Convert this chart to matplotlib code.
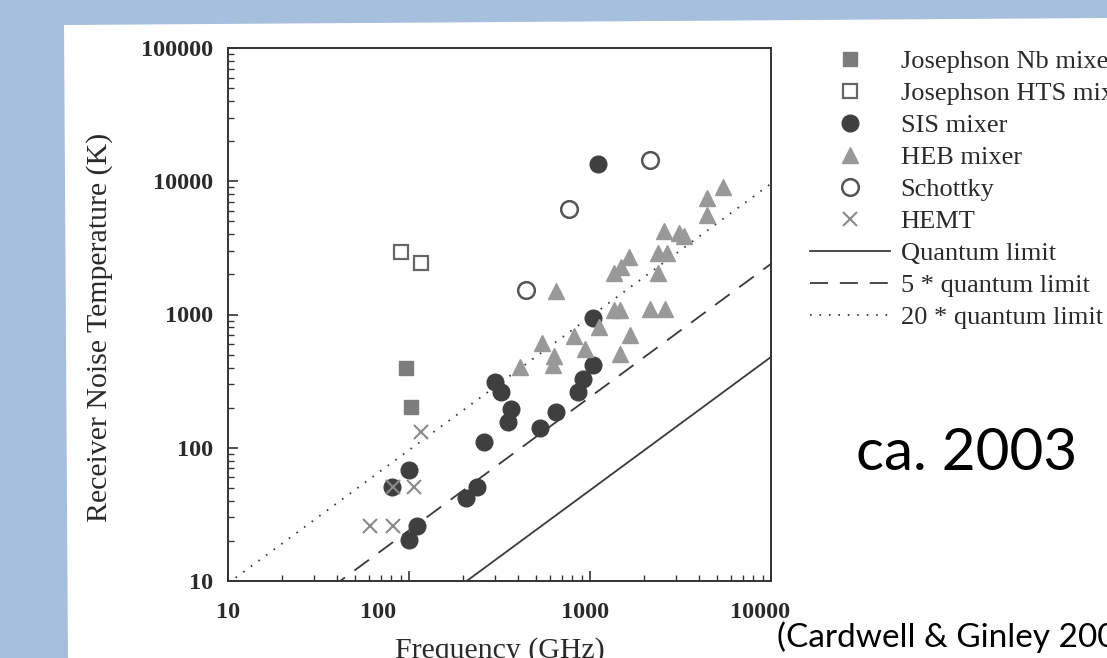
import numpy as np
import matplotlib
matplotlib.use("Agg")
import matplotlib.pyplot as plt
from matplotlib.patches import Polygon

plt.rcParams['lines.scale_dashes'] = False

# ---------------- data ----------------
nb_freq = [96, 103]
nb_temp = [400, 203]

hts_freq = [90, 117]
hts_temp = [2960, 2420]

sis_freq = [81, 100, 111, 100, 207, 237, 261, 298, 322, 365, 354, 529, 649, 861, 918, 1035, 1042, 1112]
sis_temp = [51, 68, 26, 20.3, 42, 51, 111, 313, 264, 195, 157, 140, 185, 264, 327, 418, 936, 13400]

heb_freq = [410, 541, 632, 622, 653, 820, 933, 1122, 1349, 1466, 1456, 1665, 2143, 2594,
            2383, 1349, 1475, 1652, 2383, 2654, 2564, 3114, 3304, 4426, 4426, 5447]
heb_temp = [404, 614, 484, 418, 1500, 684, 553, 802, 1081, 1081, 505, 701, 1091, 1099,
            2032, 2038, 2270, 2705, 2912, 2880, 4265, 4093, 3882, 7447, 5585, 9057]

schottky_freq = [443, 769, 2143]
schottky_temp = [1528, 6150, 14420]

hemt_freq = [61, 82, 82, 106, 117]
hemt_temp = [26, 26, 51, 51, 132]

# quantum limit T = h f / k  (K per GHz)
K_PER_GHZ = 0.048
limit_freq = [10, 10000]
limit_factors = [1, 5, 20]
limit_labels = ["Quantum limit", "5 * quantum limit", "20 * quantum limit"]

series_labels = ["Josephson Nb mixer", "Josephson HTS mixer", "SIS mixer",
                 "HEB mixer", "Schottky", "HEMT"]

xtick_vals = [10, 100, 1000, 10000]
xtick_text = ["10", "100", "1000", "10000"]
ytick_vals = [10, 100, 1000, 10000, 100000]
ytick_text = ["10", "100", "1000", "10000", "100000"]

# ---------------- figure ----------------
W, H = 1107, 658
fig = plt.figure(figsize=(W / 100, H / 100), dpi=100)
fig.patch.set_facecolor('#a5bfdd')

def fx(x):
    return x / W

def fy(y):
    return 1 - y / H

# white page
page = Polygon([(fx(64), fy(25)), (fx(1107), fy(18)), (fx(1107), fy(660)), (fx(68), fy(660))],
               closed=True, transform=fig.transFigure, facecolor='white', edgecolor='none', zorder=-10)
fig.patches.append(page)

ax = fig.add_axes([fx(228), fy(581), (771 - 228) / W, (581 - 48) / H])
ax.set_zorder(1)
ax.set_facecolor('white')
ax.set_xscale('log')
ax.set_yscale('log')
ax.set_xlim(10, 10000)
ax.set_ylim(10, 100000)

ink = '#333333'
for s in ax.spines.values():
    s.set_color(ink)
    s.set_linewidth(1.4)

serif = ['Liberation Serif', 'DejaVu Serif']

# limit lines
line_styles = [dict(linestyle='-'),
               dict(linestyle=(0, (13, 8.5))),
               dict(linestyle=(0, (1.2, 5.6)))]
limit_handles = []
for fac, lab, st in zip(limit_factors, limit_labels, line_styles):
    t = [K_PER_GHZ * fac * f for f in limit_freq]
    h, = ax.plot(limit_freq, t, color='#3a3a3a', lw=1.3, label=lab, **st)
    limit_handles.append(h)

# markers
h_nb, = ax.plot(nb_freq, nb_temp, 's', ms=10, color='#7c7c7c', mec='#7c7c7c', label=series_labels[0])
h_hts, = ax.plot(hts_freq, hts_temp, 's', ms=10, mfc='white', mec='#666666', mew=1.6, label=series_labels[1])
h_sis, = ax.plot(sis_freq, sis_temp, 'o', ms=12, color='#3f3f3f', mec='#3f3f3f', label=series_labels[2])
h_heb, = ax.plot(heb_freq, heb_temp, '^', ms=12, color='#999999', mec='#999999', label=series_labels[3])
h_sch, = ax.plot(schottky_freq, schottky_temp, 'o', ms=12, mfc='white', mec='#555555', mew=1.8, label=series_labels[4])
h_hemt, = ax.plot(hemt_freq, hemt_temp, 'x', ms=9.5, color='#8a8a8a', mew=1.5, label=series_labels[5])

# ticks
ax.set_xticks(xtick_vals)
ax.set_xticklabels([''] * len(xtick_vals))
ax.set_yticks(ytick_vals)
ax.set_yticklabels(ytick_text)
ax.tick_params(which='major', direction='in', length=7, width=1.2, color=ink, top=False, right=False)
ax.tick_params(which='minor', direction='in', length=4.5, width=1.0, color=ink, top=False, right=False)
ax.tick_params(axis='y', pad=11)
for lab in ax.get_yticklabels():
    lab.set_fontfamily(serif)
    lab.set_fontweight('bold')
    lab.set_fontsize(17.5)
    lab.set_color('#2a2a2a')

# x tick labels (as in the scan they sit slightly left of their ticks)
xlabel_nudge_px = [0, -31, -5, -11]
for v, t, dx in zip(xtick_vals, xtick_text, xlabel_nudge_px):
    ax.annotate(t, xy=(v, 0), xycoords=('data', 'axes fraction'),
                xytext=(dx * 0.72, -26.5), textcoords='offset points',
                ha='center', va='baseline', fontfamily=serif, fontweight='bold',
                fontsize=17.5, color='#2a2a2a', annotation_clip=False)

# axis titles
fig.text(fx(100), fy(327), "Receiver Noise Temperature (K)", rotation=90, ha='center', va='center',
         fontfamily=serif, fontsize=21.5, color='#2a2a2a')
fig.text(fx(500), fy(658), "Frequency (GHz)", ha='center', va='baseline',
         fontfamily=serif, fontsize=21.5, color='#2a2a2a')

# legend
handles = [h_nb, h_hts, h_sis, h_heb, h_sch, h_hemt] + limit_handles
leg = fig.legend(handles=handles, labels=series_labels + limit_labels,
                 loc='upper left', bbox_to_anchor=(fx(810), fy(50)),
                 frameon=False, handlelength=3.05, handletextpad=0.38,
                 labelspacing=0.32, borderaxespad=0, borderpad=0,
                 prop={'family': serif, 'size': 19}, numpoints=1)
for t in leg.get_texts():
    t.set_color('#2a2a2a')

# annotations on the slide
fig.text(fx(967), fy(453), "ca. 2003", ha='center', va='center',
         fontfamily=['Lato', 'DejaVu Sans'], fontsize=42, color='black')
fig.text(fx(777), fy(637), "(Cardwell & Ginley 2003)", ha='left', va='center',
         fontfamily=['Lato', 'DejaVu Sans'], fontsize=24, color='black')

fig.savefig('out.png', dpi=100, facecolor=fig.get_facecolor())
